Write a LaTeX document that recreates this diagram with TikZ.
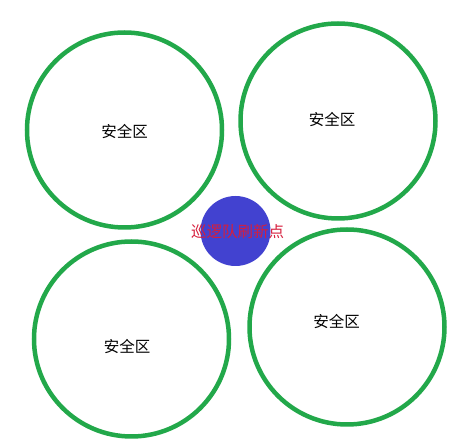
\documentclass[tikz,border=0pt]{standalone}
\usepackage{fontspec}
\setmainfont{Noto Sans CJK SC}
\usepackage{xcolor}
\usepackage{tikz}

\definecolor{zonegreen}{RGB}{34,168,74}
\definecolor{patrolblue}{RGB}{66,66,208}
\definecolor{patrolred}{RGB}{214,30,60}

\tikzset{
  zone/.style={circle,draw=zonegreen,line width=4.5pt,minimum size=195pt,inner sep=0pt},
  zonelabel/.style={font=\fontsize{15.5pt}{18pt}\selectfont,text=black,inner sep=0pt},
  spawn/.style={circle,fill=patrolblue,minimum size=70pt,inner sep=0pt}
}

\begin{document}
\begin{tikzpicture}[x=1pt,y=-1pt]
\useasboundingbox (0,0) rectangle (464,443);
\node[zone] (zoneA) at (124.5,130) {};
\node[zone] (zoneB) at (338,121) {};
\node[zone] (zoneC) at (131.5,339) {};
\node[zone] (zoneD) at (347,327) {};
\node[zonelabel] (labelA) at ([yshift=-2pt]zoneA.center) {安全区};
\node[zonelabel] (labelB) at ([xshift=-6pt,yshift=1pt]zoneB.center) {安全区};
\node[zonelabel] (labelC) at ([xshift=-4.5pt,yshift=-8pt]zoneC.center) {安全区};
\node[zonelabel] (labelD) at ([xshift=-10.5pt,yshift=5pt]zoneD.center) {安全区};
\node[spawn] (spawn) at (235.5,231) {};
\node[zonelabel,text=patrolred] (spawnlabel) at ([xshift=2pt,yshift=-1pt]spawn.center) {巡逻队刷新点};
\end{tikzpicture}
\end{document}
